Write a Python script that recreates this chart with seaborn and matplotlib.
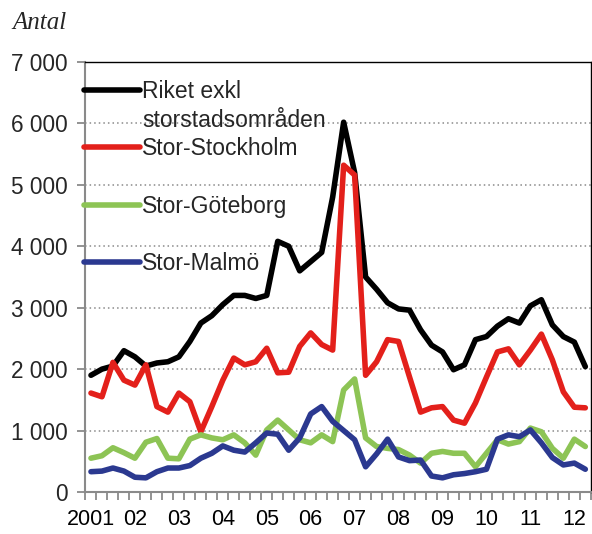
import numpy as np
import pandas as pd
import seaborn as sns
import matplotlib
matplotlib.use('Agg')
import matplotlib.pyplot as plt
from matplotlib.ticker import FuncFormatter

# kvartal 2001 K1 - 2012 K2, etikett vid första kvartalet varje år
year_labels = ['2001', '02', '03', '04', '05', '06', '07', '08', '09', '10', '11', '12']
n_quarters = 46

series_names = ['Riket exkl storstadsområden', 'Stor-Stockholm', 'Stor-Göteborg', 'Stor-Malmö']

riket = [1900, 2000, 2050, 2300, 2200, 2050, 2100, 2120, 2200, 2450, 2750, 2870,
         3050, 3200, 3200, 3150, 3200, 4080, 4000, 3600, 3750, 3900, 4800, 6020,
         5200, 3500, 3300, 3080, 2980, 2960, 2640, 2390, 2280, 1990, 2070, 2480,
         2530, 2700, 2820, 2750, 3030, 3130, 2720, 2530, 2440, 2040]
stockholm = [1610, 1550, 2110, 1820, 1740, 2070, 1390, 1300, 1610, 1470, 980, 1390,
             1820, 2180, 2070, 2120, 2340, 1940, 1950, 2370, 2590, 2400, 2310, 5320,
             5160, 1900, 2120, 2480, 2450, 1870, 1300, 1370, 1390, 1170, 1120, 1450,
             1870, 2280, 2330, 2070, 2310, 2570, 2150, 1630, 1380, 1370]
goteborg = [550, 590, 720, 640, 550, 810, 870, 550, 540, 860, 930, 880,
            850, 930, 800, 600, 1010, 1170, 1010, 850, 800, 930, 820, 1660,
            1840, 880, 740, 710, 690, 600, 470, 630, 660, 630, 630, 410,
            630, 850, 780, 820, 1040, 980, 710, 550, 860, 740]
malmo = [330, 340, 390, 340, 240, 230, 330, 390, 390, 430, 550, 630,
         750, 680, 650, 800, 960, 940, 680, 880, 1270, 1390, 1150, 1000,
         850, 410, 620, 860, 570, 510, 520, 260, 230, 280, 300, 330,
         370, 860, 930, 900, 1010, 800, 560, 440, 470, 370]

colors = ['#000000', '#e3201b', '#8dc455', '#2b3990']

df = pd.DataFrame({'kvartal': np.arange(n_quarters)})
for name, vals in zip(series_names, [riket, stockholm, goteborg, malmo]):
    df[name] = vals
long_df = df.melt(id_vars='kvartal', var_name='serie', value_name='antal')

sns.set_theme(style='white')
plt.rcParams['font.family'] = ['Liberation Sans', 'DejaVu Sans']

fig = plt.figure(figsize=(5.92, 5.34), dpi=100)
ax = fig.add_axes([0.1444, 0.0787, 0.8536, 0.8052])

sns.lineplot(data=long_df, x='kvartal', y='antal', hue='serie', hue_order=series_names,
             palette=dict(zip(series_names, colors)), linewidth=4, errorbar=None,
             legend=False, ax=ax)

ax.set_xlim(-0.5, n_quarters - 0.5)
ax.set_ylim(0, 7000)
ax.set_yticks(np.arange(0, 7001, 1000))
ax.yaxis.set_major_formatter(FuncFormatter(lambda v, p: f"{int(v):,}".replace(',', ' ')))
ax.set_xticks(np.arange(0, n_quarters, 4))
ax.set_xticklabels(year_labels)
ax.set_xticks(np.arange(-0.5, n_quarters, 1), minor=True)
ax.set_xlabel('')
ax.set_ylabel('')

ax.grid(axis='y', linestyle=(0, (1, 2)), color='#8a8a8a', linewidth=1.1)
ax.tick_params(axis='x', which='major', length=0, pad=12, labelsize=15.5, colors='black')
ax.tick_params(axis='x', which='minor', length=6, width=1.3, color='#8a8a8a', direction='out', bottom=True)
ax.tick_params(axis='y', length=6, width=1.3, color='#8a8a8a', direction='out', pad=7,
               labelsize=16.3, left=True)

for side in ['left', 'bottom']:
    ax.spines[side].set_color('#8a8a8a')
    ax.spines[side].set_linewidth(1.5)
for side in ['top', 'right']:
    ax.spines[side].set_color('black')
    ax.spines[side].set_linewidth(1.0)

leg = ax.legend(handles=ax.lines[:4],
                labels=['Riket exkl', 'Stor-Stockholm', 'Stor-Göteborg', 'Stor-Malmö'],
                loc='upper left', bbox_to_anchor=(-0.003, 0.958), frameon=False,
                borderpad=0, borderaxespad=0, handlelength=2.45, handletextpad=0.1,
                labelspacing=1.5, fontsize=16.5)
ax.annotate('storstadsområden', xy=(0, 0), xycoords=leg.get_texts()[0],
            xytext=(0, -4), textcoords='offset points', va='top', ha='left',
            fontsize=16.5, zorder=10)

fig.text(12 / 592, 1 - 29 / 534, 'Antal', family='Liberation Serif', style='italic',
         fontsize=18, va='baseline', ha='left')

fig.savefig('out.png', dpi=100)
